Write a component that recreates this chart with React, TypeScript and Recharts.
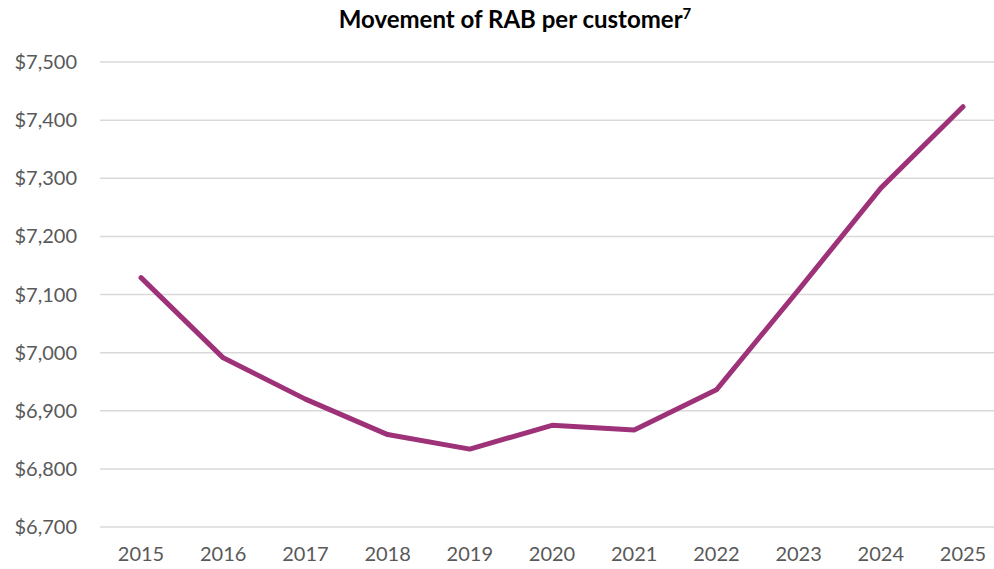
import React from "react";
import { LineChart, Line, XAxis, YAxis, CartesianGrid } from "recharts";

const years = ["2015", "2016", "2017", "2018", "2019", "2020", "2021", "2022", "2023", "2024", "2025"];
const rabPerCustomer = [7129, 6991, 6920, 6859, 6834, 6875, 6867, 6936, 7108, 7283, 7423];
const yTicks = [6700, 6800, 6900, 7000, 7100, 7200, 7300, 7400, 7500];

const data = years.map((y, i) => ({ year: y, value: rabPerCustomer[i] }));

const fmt = (v: number) => "$" + v.toLocaleString("en-US");

const FONT = "Lato, 'Open Sans', sans-serif";

export default function App() {
  return (
    <div
      style={{
        position: "absolute",
        left: 0,
        top: 0,
        width: 994,
        height: 569,
        overflow: "hidden",
        background: "#fff",
        fontFamily: FONT,
      }}
    >
      <div
        style={{
          position: "absolute",
          top: 4,
          left: 0,
          width: 1030,
          textAlign: "center",
          fontWeight: 700,
          fontSize: 24,
          color: "#000",
          fontFamily: FONT,
        }}
      >
        Movement of RAB per customer<sup style={{ fontSize: 15 }}>7</sup>
      </div>
      <LineChart
        width={1004}
        height={569}
        data={data}
        margin={{ top: 62, right: 0, bottom: 0, left: 0 }}
      >
        <CartesianGrid vertical={false} stroke="#D9D9D9" strokeWidth={1.5} />
        <XAxis
          dataKey="year"
          axisLine={false}
          tickLine={false}
          tickSize={0}
          tickMargin={20}
          height={42}
          interval={0}
          padding={{ left: 41, right: 41 }}
          tick={{ fill: "#595959", fontSize: 20, fontFamily: FONT }}
        />
        <YAxis
          domain={[6700, 7500]}
          ticks={yTicks}
          tickFormatter={fmt}
          axisLine={false}
          tickLine={false}
          tickSize={0}
          tickMargin={23}
          width={100}
          interval={0}
          tick={{ fill: "#595959", fontSize: 20, fontFamily: FONT }}
        />
        <Line
          type="linear"
          dataKey="value"
          stroke="#9E3279"
          strokeWidth={5}
          dot={false}
          isAnimationActive={false}
          strokeLinecap="round"
          strokeLinejoin="round"
        />
      </LineChart>
    </div>
  );
}
